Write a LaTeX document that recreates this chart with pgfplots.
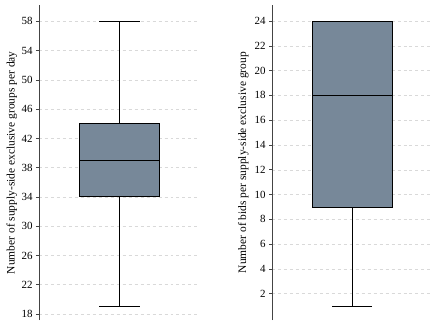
\documentclass[border=0pt]{standalone}
\usepackage{fontspec}
\setmainfont{Liberation Serif}
\usepackage{pgfplots}
\pgfplotsset{compat=1.18}
\usepgfplotslibrary{statistics}
\definecolor{boxfill}{HTML}{778899}
\definecolor{spine}{HTML}{444444}
\definecolor{gridc}{HTML}{D9D9D9}
\pgfplotsset{
  mybox/.style={
    scale only axis,
    anchor=south west,
    height=314.7bp,
    axis y line=left,
    axis x line=none,
    axis line style={-, spine, line width=0.9pt},
    xmin=0, xmax=2,
    xtick=\empty,
    tick align=outside,
    major tick length=3bp,
    ytick style={spine, line width=0.6pt},
    ymajorgrids,
    grid style={dashed, gridc, line width=0.5pt},
    /pgf/number format/assume math mode=true,
    tick label style={font=\fontsize{11}{12}\selectfont},
    label style={font=\fontsize{11.5}{13}\selectfont},
    boxplot/draw direction=y,
  },
  boxst/.style={fill=boxfill, draw=black, line width=0.9pt, solid, mark=none},
}
\begin{document}
\begin{tikzpicture}
\useasboundingbox (0,0) rectangle (439bp,327bp);
\begin{axis}[mybox, at={(39bp,7bp)}, width=161bp,
  ymin=17.18, ymax=60.19,
  ytick={18,22,26,30,34,38,42,46,50,54,58},
  ylabel shift=-2.5bp,
  ylabel={Number of supply-side exclusive groups per day}]
\addplot[boxst, boxplot prepared={median=39, upper quartile=44, lower quartile=34,
  upper whisker=58, lower whisker=19, draw position=1, box extend=1, whisker extend=0.5}]
  coordinates {};
\end{axis}
\begin{axis}[mybox, at={(272bp,7bp)}, width=160bp,
  ymin=-0.12, ymax=25.27,
  ytick={2,4,6,8,10,12,14,16,18,20,22,24},
  ylabel shift=-1bp,
  ylabel={Number of bids per supply-side exclusive group}]
\addplot[boxst, boxplot prepared={median=18, upper quartile=24, lower quartile=9,
  upper whisker=24, lower whisker=1, draw position=1, box extend=1, whisker extend=0.5}]
  coordinates {};
\end{axis}
\end{tikzpicture}
\end{document}
